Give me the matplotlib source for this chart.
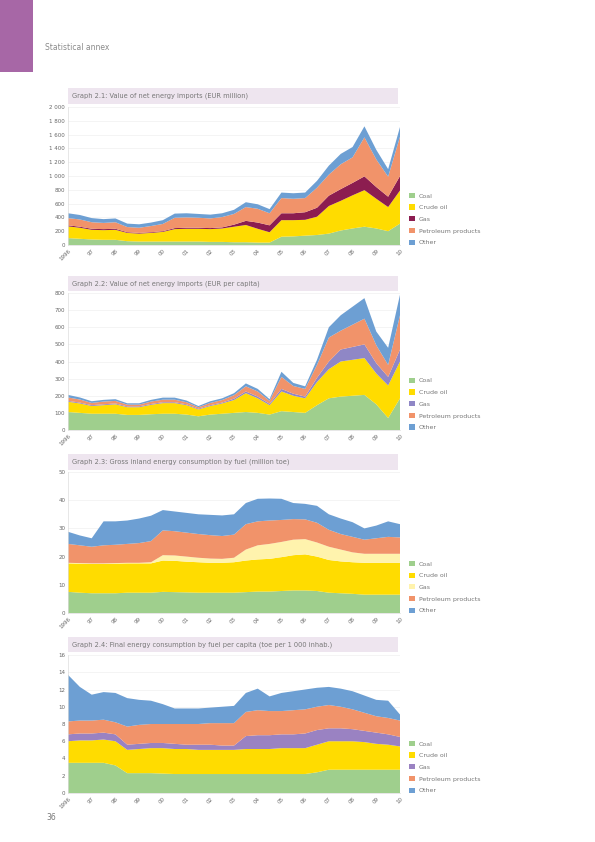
import matplotlib
matplotlib.use("Agg")
import matplotlib.pyplot as plt
from matplotlib.patches import Rectangle, Patch

plt.rcParams['font.family'] = ['DejaVu Sans']

# ---------------- data ----------------
periods = [1996.0, 1996.5, 1997.0, 1997.5, 1998.0, 1998.5, 1999.0, 1999.5,
           2000.0, 2000.5, 2001.0, 2001.5, 2002.0, 2002.5, 2003.0, 2003.5,
           2004.0, 2004.5, 2005.0, 2005.5, 2006.0, 2006.5, 2007.0, 2007.5,
           2008.0, 2008.5, 2009.0, 2009.5, 2010.0]
year_ticks = [1996, 1997, 1998, 1999, 2000, 2001, 2002, 2003, 2004, 2005,
              2006, 2007, 2008, 2009, 2010]
year_labels = ['1996', '97', '98', '99', '00', '01', '02', '03', '04', '05',
               '06', '07', '08', '09', '10']

legend_labels = ['Coal', 'Crude oil', 'Gas', 'Petroleum products', 'Other']

# Graph 1
g1_green = [100, 90, 80, 75, 75, 55, 50, 50, 50, 50, 50, 50, 45, 45, 40, 40, 35, 35,
            120, 125, 135, 145, 165, 210, 240, 265, 240, 200, 310]
g1_yellow = [170, 160, 140, 140, 145, 120, 115, 125, 140, 180, 185, 185, 185, 195, 225, 250,
             200, 150, 240, 235, 230, 265, 400, 430, 480, 530, 430, 350, 480]
g1_third = [15, 15, 15, 15, 15, 10, 10, 10, 10, 15, 15, 15, 15, 15, 30, 60, 90, 100,
            100, 100, 110, 130, 150, 170, 180, 200, 170, 150, 210]
g1_orange = [105, 105, 95, 90, 95, 75, 75, 90, 105, 150, 150, 145, 140, 150, 155, 200, 200, 175,
             220, 210, 205, 290, 305, 360, 370, 565, 400, 290, 570]
g1_blue = [70, 65, 60, 55, 55, 50, 50, 50, 55, 60, 60, 55, 55, 55, 60, 70, 65, 60,
           80, 80, 80, 100, 130, 150, 150, 160, 140, 110, 140]

# Graph 2
g2_green = [105, 100, 95, 95, 95, 88, 88, 92, 95, 95, 90, 80, 90, 95, 100, 105, 100, 90,
            110, 105, 100, 145, 185, 195, 200, 205, 150, 70, 185]
g2_yellow = [60, 55, 45, 50, 55, 45, 45, 55, 62, 62, 55, 40, 50, 60, 75, 110, 85, 55,
             115, 95, 85, 135, 170, 205, 210, 215, 180, 190, 215]
g2_third = [5, 5, 5, 5, 5, 5, 5, 5, 5, 5, 5, 5, 5, 5, 8, 10, 10, 8,
            15, 12, 10, 25, 45, 70, 75, 80, 60, 50, 70]
g2_orange = [20, 18, 13, 16, 15, 10, 10, 14, 15, 15, 12, 8, 13, 15, 20, 30, 30, 17,
             70, 45, 45, 75, 140, 110, 130, 150, 105, 70, 200]
g2_blue = [15, 12, 10, 10, 10, 8, 8, 10, 12, 12, 10, 7, 10, 10, 12, 17, 15, 10,
           30, 18, 15, 30, 60, 90, 105, 120, 80, 100, 120]

# Graph 3
g3_green = [7.5, 7.2, 7.0, 7.0, 7.0, 7.2, 7.2, 7.2, 7.5, 7.4, 7.3, 7.2, 7.2, 7.2, 7.2, 7.4,
            7.6, 7.6, 7.8, 8.0, 8.0, 7.8, 7.2, 7.0, 6.8, 6.5, 6.5, 6.5, 6.5]
g3_yellow = [10.1, 10.3, 10.4, 10.4, 10.5, 10.4, 10.4, 10.4, 11.1, 11.1, 10.9, 10.8, 10.6, 10.6,
             10.8, 11.2, 11.4, 11.6, 12.0, 12.5, 12.8, 12.2, 11.6, 11.3, 11.2, 11.3, 11.3, 11.3, 11.3]
g3_third = [0.2, 0.2, 0.2, 0.2, 0.2, 0.2, 0.2, 0.4, 1.9, 1.9, 1.8, 1.6, 1.5, 1.4, 1.6, 3.9,
            5.0, 5.3, 5.4, 5.5, 5.4, 5.0, 4.7, 4.2, 3.5, 3.2, 3.2, 3.2, 3.2]
g3_orange = [6.7, 6.3, 5.9, 6.4, 6.5, 6.7, 7.0, 7.5, 8.8, 8.6, 8.5, 8.4, 8.3, 8.1, 8.2, 9.0,
             8.5, 8.3, 7.8, 7.3, 7.0, 7.0, 6.0, 5.5, 5.5, 5.0, 5.5, 6.0, 5.8]
g3_blue = [4.3, 3.5, 3.0, 8.5, 8.3, 8.3, 8.7, 9.0, 7.2, 7.0, 7.0, 7.0, 7.2, 7.3, 7.2, 7.5,
           8.0, 7.8, 7.5, 5.7, 5.5, 6.0, 5.5, 5.5, 5.2, 4.0, 4.5, 5.5, 4.7]

# Graph 4
g4_green = [3.5, 3.5, 3.5, 3.5, 3.2, 2.3, 2.3, 2.3, 2.25, 2.2, 2.2, 2.2, 2.2, 2.2, 2.2, 2.2,
            2.2, 2.2, 2.2, 2.2, 2.2, 2.4, 2.7, 2.7, 2.7, 2.7, 2.7, 2.7, 2.7]
g4_yellow = [2.5, 2.6, 2.6, 2.7, 2.8, 2.7, 2.8, 2.9, 2.95, 2.9, 2.9, 2.8, 2.8, 2.8, 2.8, 2.9,
             2.9, 2.9, 3.0, 3.0, 3.0, 3.2, 3.3, 3.3, 3.3, 3.2, 3.0, 2.9, 2.7]
g4_third = [0.8, 0.8, 0.8, 0.8, 0.8, 0.6, 0.6, 0.6, 0.6, 0.6, 0.5, 0.6, 0.6, 0.5, 0.5, 1.5,
            1.6, 1.6, 1.6, 1.6, 1.7, 1.7, 1.5, 1.5, 1.4, 1.3, 1.3, 1.2, 1.1]
g4_orange = [1.5, 1.5, 1.5, 1.5, 1.4, 2.1, 2.2, 2.2, 2.2, 2.3, 2.4, 2.4, 2.5, 2.6, 2.6, 2.8,
             2.9, 2.8, 2.7, 2.8, 2.8, 2.7, 2.7, 2.5, 2.3, 2.1, 1.9, 1.9, 1.9]
g4_blue = [5.4, 3.9, 3.0, 3.2, 3.4, 3.3, 2.9, 2.7, 2.3, 1.8, 1.8, 1.8, 1.8, 1.9, 2.0, 2.2,
           2.5, 1.7, 2.1, 2.2, 2.3, 2.2, 2.1, 2.1, 2.1, 2.0, 1.9, 2.0, 0.7]

titles = [
    'Graph 2.1: Value of net energy imports (EUR million)',
    'Graph 2.2: Value of net energy imports (EUR per capita)',
    'Graph 2.3: Gross inland energy consumption by fuel (million toe)',
    'Graph 2.4: Final energy consumption by fuel per capita (toe per 1 000 inhab.)',
]
y_ticks = [
    [0, 200, 400, 600, 800, 1000, 1200, 1400, 1600, 1800, 2000],
    [0, 100, 200, 300, 400, 500, 600, 700, 800],
    [0, 10, 20, 30, 40, 50],
    [0, 2, 4, 6, 8, 10, 12, 14, 16],
]
y_tick_labels = [
    ['0', '200', '400', '600', '800', '1 000', '1 200', '1 400', '1 600', '1 800', '2 000'],
    ['0', '100', '200', '300', '400', '500', '600', '700', '800'],
    ['0', '10', '20', '30', '40', '50'],
    ['0', '2', '4', '6', '8', '10', '12', '14', '16'],
]

# ---------------- style ----------------
GREEN = '#9fcf8d'
YELLOW = '#ffdc00'
ORANGE = '#f1936a'
BLUE = '#6d9fd3'
third_colors = ['#8c1d50', '#8f87c6', '#fff3ad', '#9a82c2']

W, H = 595, 842
fig = plt.figure(figsize=(W / 100, H / 100), dpi=100)


def fx(px):
    return px / W


def fy(py):
    return 1 - py / H


# page decoration
fig.patches.append(Rectangle((0, fy(72)), fx(33), 72 / H, transform=fig.transFigure,
                             facecolor='#a767a6', edgecolor='none'))
fig.text(fx(45), fy(47), 'Statistical annex', fontsize=5.5, color='#8a8a8a',
         va='center', ha='left')
fig.text(fx(46), fy(818), '36', fontsize=5.5, color='#777777', va='center', ha='left')

# panel geometry (pixels): left, right, top, bottom, title_top, title_bottom
panels = [
    (68, 400, 107, 245, 88, 104),
    (68, 400, 293, 430, 276, 291),
    (68, 400, 472, 613, 454, 470),
    (68, 400, 655, 793, 637, 652),
]

data = [
    (g1_green, g1_yellow, g1_third, g1_orange, g1_blue),
    (g2_green, g2_yellow, g2_third, g2_orange, g2_blue),
    (g3_green, g3_yellow, g3_third, g3_orange, g3_blue),
    (g4_green, g4_yellow, g4_third, g4_orange, g4_blue),
]

for k, (l, r, t, b, tt, tb) in enumerate(panels):
    ax = fig.add_axes([fx(l), fy(b), fx(r - l), (b - t) / H])
    cols = [GREEN, YELLOW, third_colors[k], ORANGE, BLUE]
    ax.stackplot(periods, *data[k], colors=cols, linewidth=0)
    ax.set_xlim(1996, 2010)
    ax.set_ylim(y_ticks[k][0], y_ticks[k][-1])
    ax.set_yticks(y_ticks[k])
    ax.set_yticklabels(y_tick_labels[k])
    ax.set_xticks(year_ticks)
    ax.set_xticklabels(year_labels, rotation=45, ha='right', rotation_mode='anchor')
    ax.tick_params(axis='both', labelsize=4, colors='#666666', length=0, pad=2)
    ax.grid(axis='y', color='#ececec', linewidth=0.4)
    ax.set_axisbelow(True)
    for s in ['top', 'right']:
        ax.spines[s].set_visible(False)
    for s in ['left', 'bottom']:
        ax.spines[s].set_color('#dddddd')
        ax.spines[s].set_linewidth(0.5)

    # title bar
    fig.patches.append(Rectangle((fx(68), fy(tb)), fx(398 - 68), (tb - tt) / H,
                                 transform=fig.transFigure,
                                 facecolor='#eee5ef', edgecolor='none'))
    fig.text(fx(72), fy((tt + tb) / 2), titles[k], fontsize=4.8, color='#777777',
             va='center', ha='left')

    # legend
    handles = [Patch(facecolor=c, edgecolor='none') for c in cols]
    ax.legend(handles, legend_labels, loc='lower left', bbox_to_anchor=(1.02, -0.02),
              frameon=False, fontsize=4.5, handlelength=0.9, handleheight=0.9,
              labelspacing=0.95, handletextpad=0.6, borderaxespad=0,
              labelcolor='#777777')

fig.savefig('out.png', dpi=100)
